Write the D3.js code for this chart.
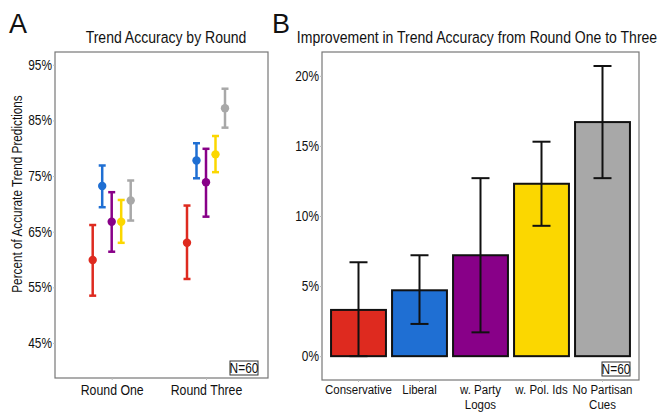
<!DOCTYPE html>
<html>
<head>
<meta charset="utf-8">
<script src="https://cdn.jsdelivr.net/npm/d3@7"></script>
<style>
  body { margin: 0; background: #fff; }
  svg text { font-family: "Liberation Sans", Arial, sans-serif; fill: #111; }
</style>
</head>
<body>
<div id="chart"></div>
<script>
// groups, shared colours
var groups = ["Conservative", "Liberal", "w. Party Logos", "w. Pol. Ids", "No Partisan Cues"];
var colors = ["#de2a1f", "#1f6fd3", "#880088", "#fbd700", "#a8a8a8"];

// panel A: accuracy by round (mean, lower, upper), in percent
var rounds = ["Round One", "Round Three"];
var roundOneMean = [59.9, 73.2, 66.8, 66.8, 70.6];
var roundOneLow  = [53.5, 69.4, 61.4, 63.0, 67.0];
var roundOneHigh = [66.2, 76.9, 72.1, 70.7, 74.2];
var roundThreeMean = [63.0, 77.8, 73.9, 78.9, 87.2];
var roundThreeLow  = [56.5, 74.6, 67.7, 75.7, 83.7];
var roundThreeHigh = [69.7, 80.9, 79.9, 82.2, 90.7];
var accTicks = [45, 55, 65, 75, 85, 95];

// panel B: improvement from round one to three, in percent
var improvement = [3.3, 4.7, 7.2, 12.3, 16.7];
var improveLow  = [0.0, 2.3, 1.7, 9.3, 12.7];
var improveHigh = [6.7, 7.2, 12.7, 15.3, 20.7];
var improveTicks = [0, 5, 10, 15, 20];
var xLabelLines = [["Conservative"], ["Liberal"], ["w. Party", "Logos"], ["w. Pol. Ids"], ["No Partisan", "Cues"]];

var W = 661, H = 412;
var NARROW = 0.85; // no narrow font installed, so squeeze text horizontally

var svg = d3.select("#chart").append("svg")
    .attr("width", W)
    .attr("height", H);

// ---------- Panel A ----------
var a = { left: 55, right: 268, top: 52, bottom: 378 };

var yA = d3.scaleLinear()
    .domain([38.7, 97.3])
    .range([a.bottom, a.top]);

var xA = d3.scalePoint()
    .domain(rounds)
    .range([111.7, 206])

var dodge = d3.scalePoint()
    .domain(groups)
    .range([-19, 19]);

svg.append("rect")
    .attr("x", a.left).attr("y", a.top)
    .attr("width", a.right - a.left).attr("height", a.bottom - a.top)
    .attr("fill", "none").attr("stroke", "#777").attr("stroke-width", 1.2);

var axA = svg.append("g")
    .attr("transform", "translate(" + a.left + ",0)")
    .call(d3.axisLeft(yA).tickValues(accTicks).tickSize(2).tickFormat(function (d) { return d + "%"; }));
axA.select(".domain").remove();
axA.selectAll(".tick line").attr("stroke", "#bbb");
axA.selectAll(".tick text").attr("font-size", 14).attr("x", -3);

var axAx = svg.append("g")
    .attr("transform", "translate(0," + a.bottom + ")")
    .call(d3.axisBottom(xA).tickSize(2));
axAx.select(".domain").remove();
axAx.selectAll(".tick line").attr("stroke", "#bbb");
axAx.selectAll(".tick text").attr("font-size", 14.5).attr("y", 7);

var ptsA = [];
groups.forEach(function (g, i) {
    ptsA.push({ round: rounds[0], g: g, i: i, m: roundOneMean[i], lo: roundOneLow[i], hi: roundOneHigh[i] });
    ptsA.push({ round: rounds[1], g: g, i: i, m: roundThreeMean[i], lo: roundThreeLow[i], hi: roundThreeHigh[i] });
});

var gA = svg.append("g");
var pt = gA.selectAll("g.pt")
    .data(ptsA)
    .enter()
    .append("g")
    .attr("transform", function (d) { return "translate(" + (xA(d.round) + dodge(d.g)) + ",0)"; });

pt.append("line")
    .attr("y1", function (d) { return yA(d.lo); })
    .attr("y2", function (d) { return yA(d.hi); })
    .attr("stroke", function (d) { return colors[d.i]; })
    .attr("stroke-width", 2.5);
pt.selectAll("line.cap")
    .data(function (d) { return [d.lo, d.hi].map(function (v) { return { v: v, i: d.i }; }); })
    .enter()
    .append("line")
    .attr("x1", -3.5).attr("x2", 3.5)
    .attr("y1", function (c) { return yA(c.v); })
    .attr("y2", function (c) { return yA(c.v); })
    .attr("stroke", function (c) { return colors[c.i]; })
    .attr("stroke-width", 2.5);
pt.append("circle")
    .attr("cy", function (d) { return yA(d.m); })
    .attr("r", 4.2)
    .attr("fill", function (d) { return colors[d.i]; });

svg.append("text")
    .attr("x", 166).attr("y", 43)
    .attr("text-anchor", "middle")
    .attr("font-size", 16.5)
    .text("Trend Accuracy by Round");

// rotated label gets its own squeeze along the text direction
svg.append("text")
    .attr("class", "keep")
    .attr("transform", "translate(22,194) rotate(-90) scale(0.76,1)")
    .attr("text-anchor", "middle")
    .attr("font-size", 15.5)
    .text("Percent of Accurate Trend Predictions");

svg.append("text")
    .attr("class", "keep")
    .attr("x", 9).attr("y", 33)
    .attr("font-size", 27)
    .text("A");

// ---------- Panel B ----------
var b = { left: 322, right: 639, top: 52, bottom: 380 };

var yB = d3.scaleLinear()
    .domain([-1.7, 21.7])
    .range([b.bottom, b.top]);

var xB = d3.scaleBand()
    .domain(groups)
    .range([328, 633])
    .paddingInner(0.1)
    .paddingOuter(0.05);

svg.append("rect")
    .attr("x", b.left).attr("y", b.top)
    .attr("width", b.right - b.left).attr("height", b.bottom - b.top)
    .attr("fill", "none").attr("stroke", "#777").attr("stroke-width", 1.2);

var axB = svg.append("g")
    .attr("transform", "translate(" + b.left + ",0)")
    .call(d3.axisLeft(yB).tickValues(improveTicks).tickSize(2).tickFormat(function (d) { return d + "%"; }));
axB.select(".domain").remove();
axB.selectAll(".tick line").attr("stroke", "#bbb");
axB.selectAll(".tick text").attr("font-size", 14).attr("x", -3);

var axBx = svg.append("g")
    .attr("transform", "translate(0," + b.bottom + ")")
    .call(d3.axisBottom(xB).tickSize(2).tickFormat(""));
axBx.select(".domain").remove();
axBx.selectAll(".tick line").attr("stroke", "#bbb");
axBx.selectAll(".tick text").remove();

var lbl = svg.selectAll("text.xlab")
    .data(groups)
    .enter()
    .append("text")
    .attr("class", "xlab")
    .attr("text-anchor", "middle")
    .attr("font-size", 13.5)
    .attr("x", function (d) { return xB(d) + xB.bandwidth() / 2; })
    .attr("y", 394);
lbl.selectAll("tspan")
    .data(function (d, i) { return xLabelLines[i]; })
    .enter()
    .append("tspan")
    .attr("x", function () { return d3.select(this.parentNode).attr("x"); })
    .attr("dy", function (d, j) { return j === 0 ? 0 : 15; })
    .text(function (d) { return d; });

svg.selectAll("rect.bar")
    .data(groups)
    .enter()
    .append("rect")
    .attr("class", "bar")
    .attr("x", function (d) { return xB(d); })
    .attr("width", xB.bandwidth())
    .attr("y", function (d, i) { return yB(improvement[i]); })
    .attr("height", function (d, i) { return yB(0) - yB(improvement[i]); })
    .attr("fill", function (d, i) { return colors[i]; })
    .attr("stroke", "#111")
    .attr("stroke-width", 2);

var eb = svg.selectAll("g.eb")
    .data(groups)
    .enter()
    .append("g")
    .attr("transform", function (d) { return "translate(" + (xB(d) + xB.bandwidth() / 2) + ",0)"; });
eb.append("line")
    .attr("y1", function (d, i) { return yB(improveLow[i]); })
    .attr("y2", function (d, i) { return yB(improveHigh[i]); })
    .attr("stroke", "#111").attr("stroke-width", 2);
eb.append("line")
    .attr("x1", -9).attr("x2", 9)
    .attr("y1", function (d, i) { return yB(improveLow[i]); })
    .attr("y2", function (d, i) { return yB(improveLow[i]); })
    .attr("stroke", "#111").attr("stroke-width", 2);
eb.append("line")
    .attr("x1", -9).attr("x2", 9)
    .attr("y1", function (d, i) { return yB(improveHigh[i]); })
    .attr("y2", function (d, i) { return yB(improveHigh[i]); })
    .attr("stroke", "#111").attr("stroke-width", 2);

// title B: centred, squeezed like the rest
svg.append("text")
    .attr("x", 477).attr("y", 43)
    .attr("text-anchor", "middle")
    .attr("font-size", 16.5)
    .text("Improvement in Trend Accuracy from Round One to Three");

svg.append("text")
    .attr("class", "keep")
    .attr("x", 272).attr("y", 33)
    .attr("font-size", 27)
    .text("B");

// N=60 boxes
function nBox(x, y) {
    svg.append("rect")
        .attr("x", x).attr("y", y).attr("width", 28).attr("height", 14)
        .attr("fill", "#fff").attr("stroke", "#333").attr("stroke-width", 1);
    svg.append("text")
        .attr("x", x + 14).attr("y", y + 12)
        .attr("text-anchor", "middle")
        .attr("font-size", 14)
        .text("N=60");
}
nBox(230, 361);
nBox(602, 362);

// squeeze every other text about its own x anchor
svg.selectAll("text")
    .filter(function () { return !this.classList.contains("keep"); })
    .attr("transform", function () {
        var x = +this.getAttribute("x") || 0;
        return "translate(" + x + ",0) scale(" + NARROW + ",1) translate(" + (-x) + ",0)";
    });
</script>
</body>
</html>
